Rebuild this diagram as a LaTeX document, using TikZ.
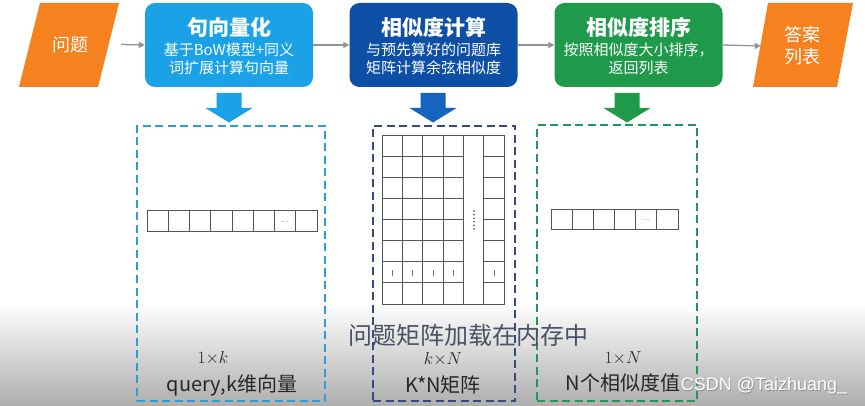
\documentclass[tikz,border=0pt]{standalone}
\usepackage{fontspec}
\setmainfont{Noto Sans CJK SC}
\newfontfamily\wmfont{Liberation Sans}
\usetikzlibrary{calc,arrows.meta}
\definecolor{orng}{HTML}{F5821F}
\definecolor{lblue}{HTML}{1BA2E6}
\definecolor{dblue}{HTML}{0E4FA6}
\definecolor{mblue}{HTML}{1565C0}
\definecolor{grn}{HTML}{1E9A4A}
\definecolor{dashlb}{HTML}{2C9ED6}
\definecolor{dashdb}{HTML}{344C80}
\definecolor{dashg}{HTML}{25965A}
\definecolor{subt}{HTML}{4A5262}
\definecolor{gridc}{HTML}{555555}
\begin{document}
\begin{tikzpicture}[x=1pt,y=-1pt,
  procbox/.style={rounded corners=10pt, minimum width=168pt, minimum height=84pt, inner sep=0pt},
  ttl/.style={text=white, font=\fontsize{21}{23}\selectfont\bfseries, inner sep=0pt},
  sub/.style={text=white, font=\fontsize{15}{17}\selectfont, inner sep=0pt},
  conn/.style={draw=gray!85, line width=1.3pt, -{Triangle[length=6pt,width=6pt]}},
  dbox/.style={dash pattern=on 8pt off 4.5pt, line width=2pt, inner sep=0pt},
  gridline/.style={draw=gridc, line width=0.9pt},
  lbl/.style={font=\fontsize{20}{22}\selectfont, text=black!85, inner sep=0pt},
  mlbl/.style={font=\fontsize{16}{18}\selectfont, text=black!85, inner sep=0pt}
]
\fill[white] (0,0) rectangle (865,406);
\useasboundingbox (0,0) rectangle (865,406);
% bottom overlay gradient
\shade[top color=white, bottom color=black!32, draw=none] (0,303) rectangle (865,406);

% parallelograms
\fill[orng] (40,3) -- (119,3) -- (98,87) -- (19,87) -- cycle;
\fill[orng] (768,3) -- (853,3) -- (837,87) -- (753,87) -- cycle;
\node[text=white, font=\fontsize{18}{20}\selectfont, minimum width=102pt, inner sep=0pt] (q) at (70,44.5) {问题};
\node[text=white, font=\fontsize{18}{22}\selectfont, align=center, minimum width=82pt, inner sep=0pt] (a) at (802,46) {答案\\列表};

% process boxes
\node[procbox, fill=lblue] (b1) at (229,45) {};
\node[procbox, fill=dblue] (b2) at (433.5,45) {};
\node[procbox, fill=grn] (b3) at (638.5,45) {};

\node[ttl] (t1) at ($(b1.north)+(0,25)$) {句向量化};
\node[sub] (s1a) at ($(b1.north)+(0,47)$) {基于BoW模型+同义};
\node[sub] (s1b) at ($(b1.north)+(0,65)$) {词扩展计算句向量};
\node[ttl] (t2) at ($(b2.north)+(0,25)$) {相似度计算};
\node[sub] (s2a) at ($(b2.north)+(0,47)$) {与预先算好的问题库};
\node[sub] (s2b) at ($(b2.north)+(0,65)$) {矩阵计算余弦相似度};
\node[ttl] (t3) at ($(b3.north)+(0,25)$) {相似度排序};
\node[sub] (s3a) at ($(b3.north)+(0,47)$) {按照相似度大小排序，};
\node[sub] (s3b) at ($(b3.north)+(0,65)$) {返回列表};

% connectors
\draw[conn] (q.east) -- (b1.west);
\draw[conn] (b1.east) -- (b2.west);
\draw[conn] (b2.east) -- (b3.west);
\draw[conn] (b3.east) -- (a.west);

% block down arrows
\foreach \cx/\col in {229/lblue, 433/mblue, 627/grn}{
  \fill[\col] (\cx-12.5,93) -- (\cx+12.5,93) -- (\cx+12.5,108) -- (\cx+23.5,108)
     -- (\cx,122.5) -- (\cx-23.5,108) -- (\cx-12.5,108) -- cycle;
}

% dashed boxes
\node[dbox, draw=dashlb, minimum width=188pt, minimum height=275pt] (d1) at (231,263.5) {};
\node[dbox, draw=dashdb, minimum width=142pt, minimum height=275pt] (d2) at (444,263.5) {};
\node[dbox, draw=dashg, minimum width=160pt, minimum height=276pt] (d3) at (617,263) {};

% left vector 1 x k
\foreach \i in {0,...,7}{
  \draw[gridline] (147+\i*21.25,210) rectangle (147+\i*21.25+21.25,231);
}
\node[font=\fontsize{7}{7}\selectfont, text=black!70, inner sep=0pt] (v1dots) at (285.1,222) {…};

% right vector 1 x N
\foreach \i in {0,...,5}{
  \draw[gridline] (551+\i*21.17,209) rectangle (551+\i*21.17+21.17,229);
}
\node[font=\fontsize{7}{7}\selectfont, text=black!70, inner sep=0pt] (v3dots) at (646.3,220.5) {…};

% matrix k x N
\draw[gridline] (382,135) rectangle (504,304);
\foreach \i in {1,...,5}{
  \draw[gridline] (382+\i*20.333,135) -- (382+\i*20.333,304);
}
\foreach \j in {1,...,7}{
  \draw[gridline] (382,135+\j*21.125) -- (463.33,135+\j*21.125);
  \draw[gridline] (483.67,135+\j*21.125) -- (504,135+\j*21.125);
}
\foreach \k in {0,...,5}{
  \fill[black!75] (474,211+\k*3.6) circle (0.9);
}
\foreach \c in {0,1,2,3,5}{
  \draw[black!55, line width=0.6pt] (392.17+\c*20.333,270.5) -- (392.17+\c*20.333,275.5);
}

% subtitle
\node[font=\fontsize{24}{26}\selectfont, text=subt, inner sep=0pt] (subtitle) at (468,335) {问题矩阵加载在内存中};

% bottom labels
\node[mlbl] (m1) at (213,358) {$1{\times}k$};
\node[lbl] (l1) at (232,385) {query,k维向量};
\node[mlbl] (m2) at (443,359) {$k{\times}N$};
\node[lbl] (l2) at (443,385) {K*N矩阵};
\node[mlbl] (m3) at (623,358) {$1{\times}N$};
\node[lbl] (l3) at (623,383) {N个相似度值};

% watermark
\node[font=\wmfont\fontsize{18}{20}\selectfont, text=black!45, inner sep=0pt] (wmshadow) at (764.8,386.8) {CSDN @Taizhuang\_};
\node[font=\wmfont\fontsize{18}{20}\selectfont, text=white, inner sep=0pt] (wm) at (764,386) {CSDN @Taizhuang\_};
\end{tikzpicture}
\end{document}
